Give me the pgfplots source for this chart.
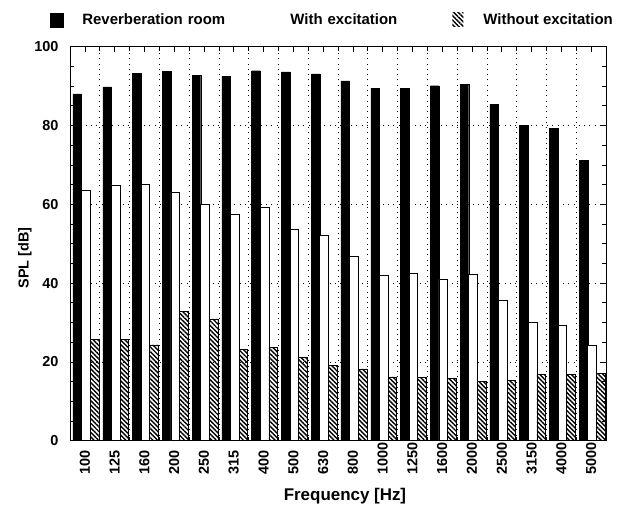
\documentclass[border=0pt]{standalone}
\usepackage{fontspec}
\setmainfont{Liberation Sans}
\usepackage{pgfplots}
\pgfplotsset{compat=1.18}
\usetikzlibrary{patterns.meta}

\pgfplotstableread{
x black white hatch
0  88.0 63.6 25.7
1  89.8 64.9 25.7
2  93.2 65.1 24.3
3  93.8 63.0 32.9
4  92.8 59.9 30.9
5  92.5 57.4 23.2
6  93.9 59.1 23.7
7  93.6 53.7 21.1
8  93.1 52.0 19.1
9  91.3 46.8 18.2
10 89.4 42.0 16.2
11 89.5 42.4 16.1
12 90.1 41.0 15.8
13 90.4 42.1 15.1
14 85.3 35.7 15.3
15 80.1 30.0 16.9
16 79.2 29.3 16.9
17 71.1 24.1 17.1
}\data

\begin{document}
\begin{tikzpicture}
\begin{axis}[
  name=ax,
  width=536bp, height=394bp, scale only axis,
  xmin=-0.5, xmax=17.5, ymin=0, ymax=100,
  axis line style={line width=0.8bp},
  xtick={0,...,17},
  xticklabels={100,125,160,200,250,315,400,500,630,800,1000,1250,1600,2000,2500,3150,4000,5000},
  minor xtick={-0.5,0.5,...,17.5},
  ytick={0,20,...,100},
  minor ytick={5,10,...,95},
  tick style={black, line width=0.7bp},
  major tick length=5bp, minor tick length=4bp,
  xtick pos=both, ytick pos=both,
  xminorgrids=true, ymajorgrids=true,
  minor grid style={black, line width=0.7bp, dash pattern=on 0.8bp off 4.5bp},
  major grid style={black, line width=0.7bp, dash pattern=on 0.8bp off 4.5bp},
  /pgf/number format/assume math mode=true,
  ticklabel style={font=\fontsize{14.5}{16}\selectfont\bfseries},
  yticklabel style={xshift=-8bp},
  xticklabel style={rotate=90, anchor=east, text width=32bp, align=left, inner xsep=1.5bp},
  xlabel={Frequency [Hz]},
  ylabel={SPL [dB]},
  xlabel style={font=\fontsize{17}{19}\selectfont\bfseries, at={(axis description cs:0.513,-0.140)}, anchor=center},
  ylabel style={font=\fontsize{14.5}{17}\selectfont\bfseries, at={(axis description cs:-0.084,0.464)}, anchor=center, rotate=0},
  legend columns=3,
  legend style={draw=none, fill=none, inner sep=0pt, nodes={inner sep=0pt},
    at={(0,1)}, anchor=west, xshift=-20bp, yshift=26.7bp,
    font=\fontsize{15}{17}\selectfont\bfseries},
]
\addplot[ybar, bar width=0.29, bar shift=-0.255, fill=black, draw=black,
  legend image code/.code={\fill[black] (0bp,-7bp) rectangle (13bp,7bp); \path[draw=none, fill=none] (0bp,0bp) -- (32bp,0bp);}]
  table[x=x, y=black] {\data};
\addlegendentry[text width=208bp, align=left]{Reverberation room}
\addplot[ybar, bar width=0.29, bar shift=0.035, fill=white, draw=black, line width=0.7bp,
  legend image code/.code={\path[draw=none, fill=none] (0bp,-7bp) -- (0bp,7bp);}]
  table[x=x, y=white] {\data};
\addlegendentry[text width=162bp, align=left]{With excitation}
\addplot[ybar, bar width=0.29, bar shift=0.325, draw=black, line width=0.7bp,
  pattern={Lines[angle=-45, distance=3.2bp, line width=1.4bp]},
  legend image code/.code={\fill[draw=none, pattern={Lines[angle=-45, distance=3.2bp, line width=1.4bp]}] (0bp,-7bp) rectangle (11bp,7bp); \path[draw=none, fill=none, pattern=none] (0bp,0bp) -- (31bp,0bp);}]
  table[x=x, y=hatch] {\data};
\addlegendentry{Without excitation}
\end{axis}
\pgfresetboundingbox
\path ([shift={(-70bp,-68.3bp)}]ax.south west) rectangle ([shift={(35bp,46.7bp)}]ax.north east);
\end{tikzpicture}
\end{document}
